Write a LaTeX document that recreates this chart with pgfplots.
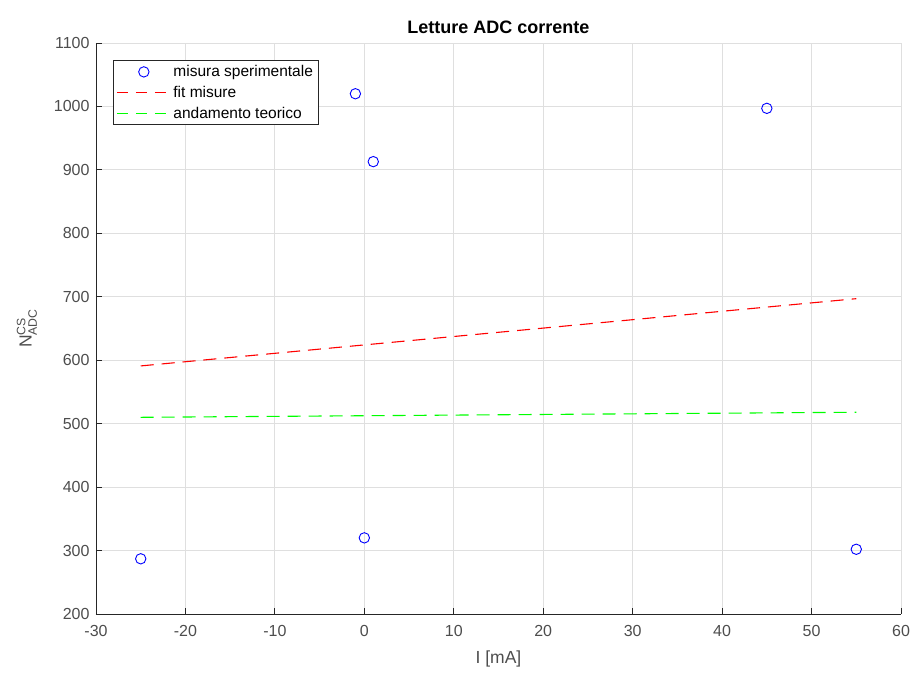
\documentclass[border=0pt]{standalone}
\usepackage{pgfplots}
\pgfplotsset{compat=1.18}
\usetikzlibrary{calc}
\usepackage{amsmath}
\usepackage{fontspec}
\setmainfont{Liberation Sans}
\definecolor{axgray}{RGB}{38,38,38}
\definecolor{ticktext}{RGB}{77,77,77}
\definecolor{gridc}{RGB}{223,223,223}
\definecolor{mblue}{RGB}{0,0,255}
\definecolor{mred}{RGB}{255,0,0}
\definecolor{mgreen}{RGB}{0,255,0}
\pgfplotsset{
  markleg/.style={legend image code/.code={\draw[mark repeat=2,mark phase=2,##1] plot coordinates {(0pt,0pt) (27pt,0pt) (54pt,0pt)};}},
  redleg/.style={legend image code/.code={\draw[draw=mred, line width=1.1pt, dash pattern=on 11pt off 8pt] (0pt,0pt) -- (54pt,0pt);}},
  greenleg/.style={legend image code/.code={\draw[draw=mgreen, line width=1.1pt, dash pattern=on 11pt off 8pt] (0pt,0pt) -- (54pt,0pt);}},
}
\begin{document}
\begin{tikzpicture}
\begin{axis}[
  scale only axis,
  width=805pt, height=571pt,
  xmin=-30, xmax=60, ymin=200, ymax=1100,
  xtick={-30,-20,...,60},
  ytick={200,300,...,1100},
  axis lines=left,
  axis line style={axgray, line width=0.8pt, -},
  every tick/.style={axgray, line width=0.8pt},
  tick align=inside,
  major tick length=6pt,
  xtick pos=bottom, ytick pos=left,
  grid=major,
  major grid style={gridc, line width=0.8pt},
  /pgf/number format/assume math mode=true,
  /pgf/number format/1000 sep={},
  tick label style={font=\fontsize{16}{18}\selectfont, color=ticktext},
  xticklabel style={yshift=-8pt},
  yticklabel style={xshift=-3pt},
  title={\textbf{Letture ADC corrente}},
  title style={font=\fontsize{18}{20}\selectfont, yshift=0pt},
  xlabel={I [mA]},
  ylabel={N$^{\text{CS}}_{\text{ADC}}$},
  label style={font=\fontsize{17.5}{19}\selectfont, color=ticktext},
  xlabel style={yshift=-7pt},
  ylabel style={yshift=10pt},
  legend style={at={(0.021,0.97)}, anchor=north west, draw=axgray, line width=0.8pt,
    font=\fontsize{15.5}{17}\selectfont, cells={anchor=west}, inner sep=3pt, row sep=4pt},
  legend cell align=left,
  clip=false,
]
\addplot[only marks, mark=o, mark size=5.2pt, color=mblue, mark options={line width=0.9pt}, markleg]
  coordinates {(-25,287) (-1,1020) (0,320) (1,913) (45,997) (55,302)};
\addlegendentry{misura sperimentale}
\addplot[no marks, color=mred, line width=1.1pt, dash pattern=on 13pt off 8pt, redleg]
  coordinates {(-25,591) (55,697)};
\addlegendentry{fit misure}
\addplot[no marks, color=mgreen, line width=1.1pt, dash pattern=on 13pt off 8pt, greenleg]
  coordinates {(-25,510) (55,518)};
\addlegendentry{andamento teorico}
\end{axis}
\pgfresetboundingbox
\path[use as bounding box] ($(current axis.south west)+(-96pt,-60pt)$) rectangle ($(current axis.north east)+(14pt,43pt)$);
\end{tikzpicture}
\end{document}
